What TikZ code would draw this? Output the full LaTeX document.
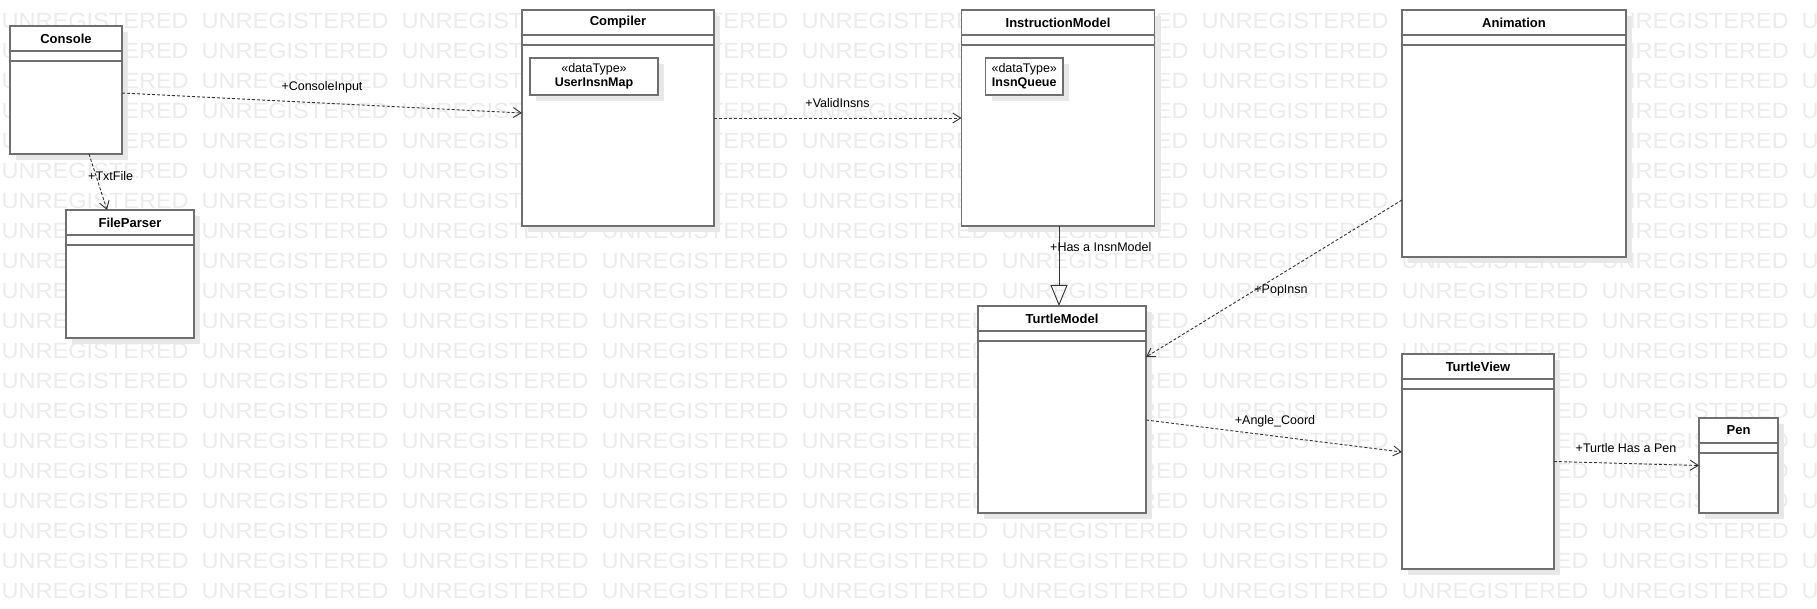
\documentclass[tikz,border=0pt]{standalone}
\usepackage{fontspec}
\setmainfont{Liberation Sans}
\usetikzlibrary{arrows.meta,shadows}

\definecolor{boxgray}{HTML}{6F6F6F}
\definecolor{markgray}{HTML}{EBEBEB}
\definecolor{shadowgray}{HTML}{E8E8E8}

\newcommand{\umlclass}[6]{%
    \node[classbox, minimum width=#4pt, minimum height=#5pt] (#1) at (#2, #3) {};
    \node[classname] (#1-name) at ([yshift=-12.5pt]#1.north) {#6};
    \draw[compline] ([yshift=-25pt]#1.north west) -- ([yshift=-25pt]#1.north east);
    \draw[compline] ([yshift=-35pt]#1.north west) -- ([yshift=-35pt]#1.north east);
}

\begin{document}
\begin{tikzpicture}[x=1pt, y=-1pt,
        wmtext/.style={anchor=west, inner sep=0pt, text=markgray, font=\fontsize{22pt}{22pt}\selectfont},
        classbox/.style={draw=boxgray, line width=1.6pt, fill=white, inner sep=0pt, outer sep=0pt,
            drop shadow={shadow xshift=6pt, shadow yshift=-6pt, fill=shadowgray, opacity=1}},
        classname/.style={inner sep=0pt, font=\fontsize{13pt}{15pt}\selectfont\bfseries},
        compline/.style={draw=boxgray, line width=1.6pt},
        typebox/.style={classbox, align=center, font=\fontsize{12.5pt}{14pt}\selectfont},
        dep/.style={draw=black!80, line width=0.9pt, dash pattern=on 3pt off 2pt,
            -{Straight Barb[length=8pt, width=10pt]}},
        gen/.style={draw=black!80, line width=0.9pt, -{Triangle[open, length=21pt, width=17pt]}},
        lbl/.style={inner sep=0pt, font=\fontsize{12.5pt}{14pt}\selectfont}]
        \useasboundingbox (0, 0) rectangle (1817, 609);

        \foreach \r in {0,...,19}
            \foreach \c in {0,...,9}
                \node[wmtext] (wm-\r-\c) at (1.5+200*\c, 20.5+30*\r) {\scalebox{1.07}[1]{UNREGISTERED}};

        \umlclass{console}{66}{90}{112}{128}{Console}
        \umlclass{fileparser}{130}{274}{128}{128}{FileParser}
        \umlclass{compiler}{618}{118}{192}{216}{Compiler}
        \umlclass{insnmodel}{1058}{118}{193}{216}{InstructionModel}
        \umlclass{animation}{1514}{133.5}{224}{247}{Animation}
        \umlclass{turtlemodel}{1062}{409.5}{168}{207}{TurtleModel}
        \umlclass{turtleview}{1478}{461.5}{152}{215}{TurtleView}
        \umlclass{pen}{1738.5}{465.5}{79}{95}{Pen}

        \node[typebox, minimum width=128pt, minimum height=37pt] (usermap) at (594, 76.5) {«dataType»\\\textbf{UserInsnMap}};
        \node[typebox, minimum width=77.5pt, minimum height=37pt] (insnqueue) at (1024.25, 76.5) {«dataType»\\\textbf{InsnQueue}};

        \draw[dep] ([yshift=-3pt]console.east) -- ([yshift=5pt]compiler.west);
        \node[lbl] (l-input) at (322, 87) {+ConsoleInput};
        \draw[dep] ([xshift=23pt]console.south) -- ([xshift=-23pt]fileparser.north);
        \node[lbl, anchor=west] (l-txt) at (88, 176) {+TxtFile};
        \draw[dep] (compiler.east) -- (insnmodel.west);
        \node[lbl] (l-valid) at (837.5, 103) {+ValidInsns};
        \draw[gen] ([xshift=1pt]insnmodel.south) -- ([xshift=1pt]insnmodel.south |- turtlemodel.north);
        \node[lbl, anchor=west] (l-has) at (1050, 247) {+Has a InsnModel};
        \draw[dep] ([yshift=-66.5pt]animation.west) -- ([yshift=52.5pt]turtlemodel.east);
        \node[lbl] (l-pop) at (1281, 290) {+PopInsn};
        \draw[dep] ([yshift=-10.5pt]turtlemodel.east) -- ([yshift=9.5pt]turtleview.west);
        \node[lbl] (l-angle) at (1275, 421) {+Angle\_Coord};
        \draw[dep] (turtleview.east) -- (pen.west);
        \node[lbl] (l-pen) at (1626, 448) {+Turtle Has a Pen};
    \end{tikzpicture}
\end{document}
